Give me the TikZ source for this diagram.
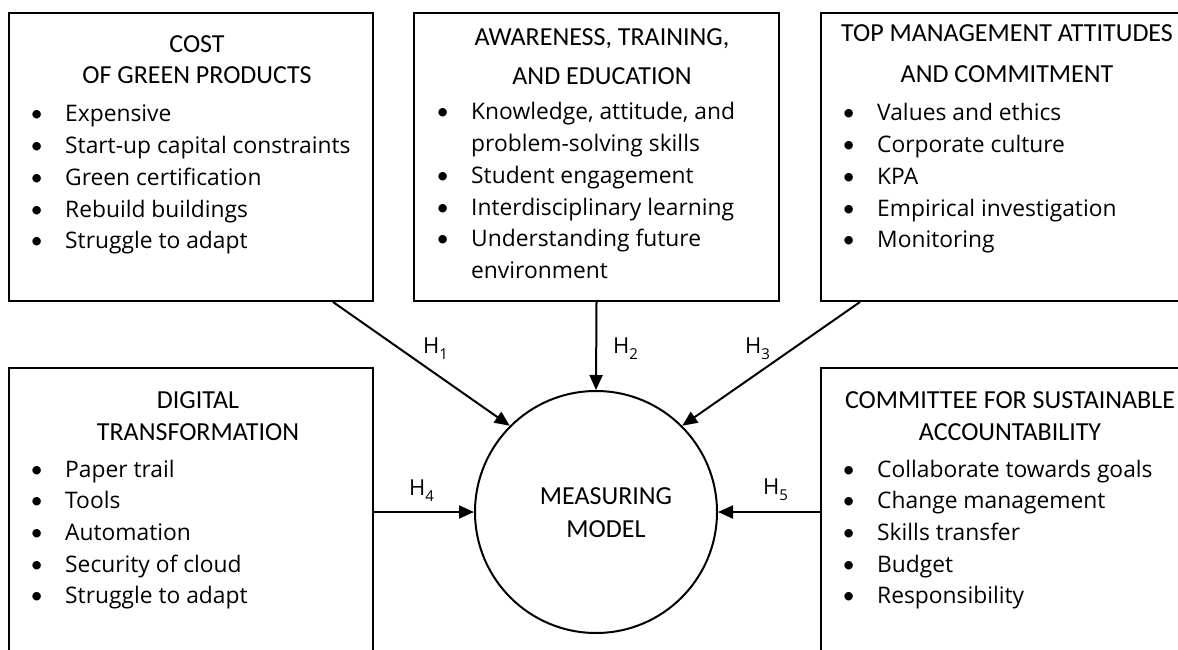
\documentclass[tikz,border=0pt]{standalone}
\usepackage{fontspec}
\setmainfont{Open Sans}
\newfontfamily\headfont{Carlito}
\newfontfamily\bulfont{Lato}
\usetikzlibrary{arrows.meta}
\newcommand\itm{\makebox[35pt][l]{\bulfont •}}
\newcommand\cont{\hspace*{35pt}}
\newcommand\hyplabel[1]{H\raisebox{-6pt}{\fontsize{15}{15}\selectfont #1}}
\begin{document}
\begin{tikzpicture}[x=1pt,y=-1pt,
  panel/.style={draw,line width=2pt,rectangle,inner sep=0pt},
  head/.style={anchor=base,inner sep=0pt,font=\headfont\fontsize{26}{31}\selectfont},
  items/.style={anchor=base west,inner sep=0pt,font=\fontsize{22.8}{31.7}\selectfont},
  link/.style={line width=2pt,-{Triangle[length=15pt,width=13pt]}},
  hyp/.style={anchor=base west,inner sep=0pt,font=\fontsize{22}{26}\selectfont}]
\useasboundingbox (0,0) rectangle (1178,650);

% panels
\node[panel,minimum width=364pt,minimum height=288pt] (cost) at (191,157) {};
\node[panel,minimum width=365pt,minimum height=288pt] (aware) at (596.5,157) {};
\node[panel,minimum width=370pt,minimum height=288pt] (topm) at (1006,157) {};
\node[panel,minimum width=364pt,minimum height=332pt] (digi) at (191,534) {};
\node[panel,minimum width=370pt,minimum height=332pt] (comm) at (1006,534) {};

% central construct
\node[draw,circle,line width=2pt,minimum size=242pt,inner sep=0pt] (m) at (596,512) {};
\node[head] (mtext) at (606,504) {\begin{tabular}[t]{@{}c@{}}MEASURING\\[2pt]MODEL\end{tabular}};

% headings
\node[head] (costh) at (197,53) {\begin{tabular}[t]{@{}c@{}}COST\\OF GREEN PRODUCTS\end{tabular}};
\node[head] (awareh) at (602,46) {\begin{tabular}[t]{@{}c@{}}AWARENESS, TRAINING,\\[8pt]AND EDUCATION\end{tabular}};
\node[head] (topmh) at (1007,42) {\begin{tabular}[t]{@{}c@{}}TOP MANAGEMENT ATTITUDES\\[10pt]AND COMMITMENT\end{tabular}};
\node[head] (digih) at (198,408) {\begin{tabular}[t]{@{}c@{}}DIGITAL\\[1pt]TRANSFORMATION\end{tabular}};
\node[head] (commh) at (1010,408) {\begin{tabular}[t]{@{}c@{}}COMMITTEE FOR SUSTAINABLE\\[1pt]ACCOUNTABILITY\end{tabular}};

% bullet lists
\node[items] (costl) at (30,122) {\begin{tabular}[t]{@{}l@{}}
  \itm Expensive\\ \itm Start-up capital constraints\\ \itm Green certification\\
  \itm Rebuild buildings\\ \itm Struggle to adapt\end{tabular}};
\node[items] (awarel) at (436,120) {\begin{tabular}[t]{@{}l@{}}
  \itm Knowledge, attitude, and\\ \cont problem-solving skills\\ \itm Student engagement\\
  \itm Interdisciplinary learning\\ \itm Understanding future\\ \cont environment\end{tabular}};
\node[items] (topml) at (842,121) {\begin{tabular}[t]{@{}l@{}}
  \itm Values and ethics\\ \itm Corporate culture\\ \itm KPA\\
  \itm Empirical investigation\\ \itm Monitoring\end{tabular}};
\node[items] (digil) at (30,477) {\begin{tabular}[t]{@{}l@{}}
  \itm Paper trail\\ \itm Tools\\ \itm Automation\\
  \itm Security of cloud\\ \itm Struggle to adapt\end{tabular}};
\node[items] (comml) at (842,477) {\begin{tabular}[t]{@{}l@{}}
  \itm Collaborate towards goals\\ \itm Change management\\ \itm Skills transfer\\
  \itm Budget\\ \itm Responsibility\end{tabular}};

% hypothesised paths
\draw[link] ([xshift=142pt]cost.south) -- (m.135);
\draw[link] (aware.south) -- (m.north);
\draw[link] ([xshift=-146pt]topm.south) -- (m.45);
\draw[link] (m.west -| digi.east) -- (m.west);
\draw[link] (m.east -| comm.west) -- (m.east);

\node[hyp] (h1) at (423,353) {\hyplabel{1}};
\node[hyp] (h2) at (613,353) {\hyplabel{2}};
\node[hyp] (h3) at (745,353) {\hyplabel{3}};
\node[hyp] (h4) at (409,495) {\hyplabel{4}};
\node[hyp] (h5) at (763,494) {\hyplabel{5}};
\end{tikzpicture}
\end{document}
